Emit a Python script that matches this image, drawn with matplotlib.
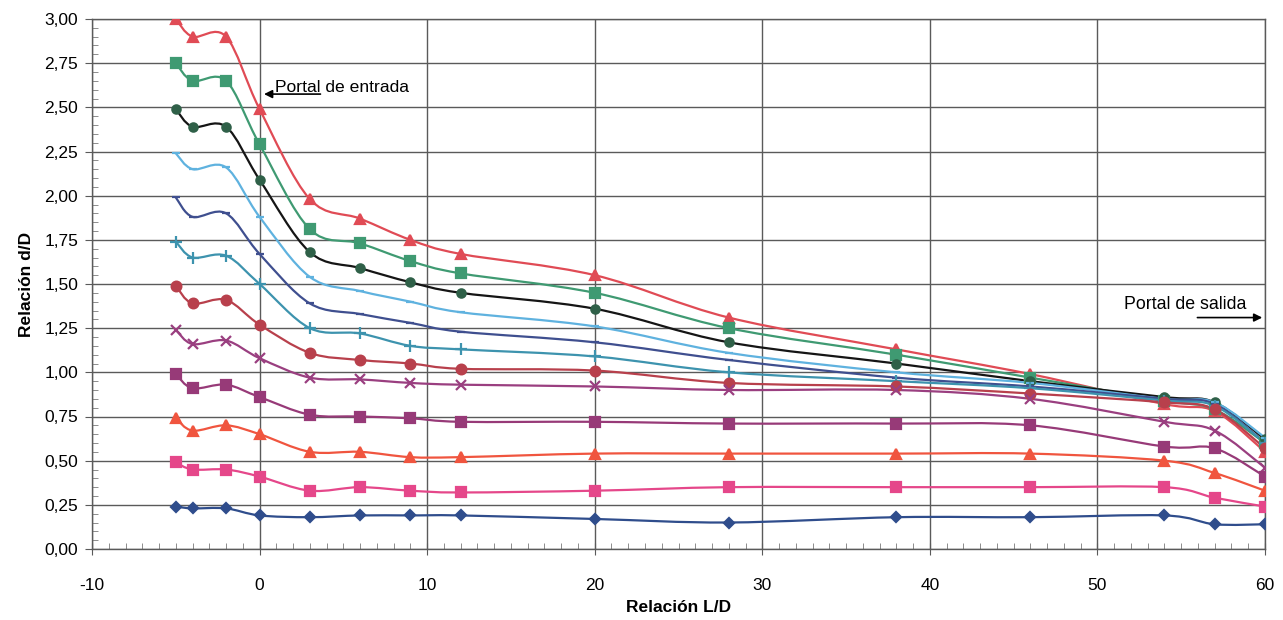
import matplotlib
matplotlib.use("Agg")
import matplotlib.pyplot as plt
import numpy as np
from matplotlib.path import Path
from matplotlib.patches import PathPatch
from matplotlib.ticker import MultipleLocator, FuncFormatter

plt.rcParams['font.family'] = ['Liberation Sans', 'DejaVu Sans']

# L/D positions of the measuring stations
ld = [-5, -4, -2, 0, 3, 6, 9, 12, 20, 28, 38, 46, 54, 57, 60]

# d/D profiles (one per upstream level)
s300 = [3.00, 2.90, 2.90, 2.49, 1.98, 1.87, 1.75, 1.67, 1.55, 1.31, 1.13, 0.99, 0.82, 0.78, 0.55]
s275 = [2.75, 2.65, 2.65, 2.29, 1.81, 1.73, 1.63, 1.56, 1.45, 1.25, 1.10, 0.97, 0.84, 0.79, 0.60]
s250 = [2.49, 2.39, 2.39, 2.09, 1.68, 1.59, 1.51, 1.45, 1.36, 1.17, 1.05, 0.95, 0.86, 0.83, 0.62]
s225 = [2.24, 2.15, 2.16, 1.88, 1.54, 1.46, 1.40, 1.34, 1.26, 1.11, 1.00, 0.94, 0.85, 0.83, 0.63]
s200 = [1.99, 1.88, 1.90, 1.67, 1.39, 1.33, 1.28, 1.23, 1.17, 1.07, 0.97, 0.92, 0.85, 0.82, 0.60]
s175 = [1.74, 1.65, 1.66, 1.50, 1.25, 1.22, 1.15, 1.13, 1.09, 1.00, 0.95, 0.91, 0.84, 0.81, 0.60]
s150 = [1.49, 1.39, 1.41, 1.27, 1.11, 1.07, 1.05, 1.02, 1.01, 0.94, 0.92, 0.88, 0.83, 0.79, 0.57]
s125 = [1.24, 1.16, 1.18, 1.08, 0.97, 0.96, 0.94, 0.93, 0.92, 0.90, 0.90, 0.85, 0.72, 0.67, 0.46]
s100 = [0.99, 0.91, 0.93, 0.86, 0.76, 0.75, 0.74, 0.72, 0.72, 0.71, 0.71, 0.70, 0.58, 0.57, 0.41]
s075 = [0.74, 0.67, 0.70, 0.65, 0.55, 0.55, 0.52, 0.52, 0.54, 0.54, 0.54, 0.54, 0.50, 0.43, 0.33]
s050 = [0.49, 0.45, 0.45, 0.41, 0.33, 0.35, 0.33, 0.32, 0.33, 0.35, 0.35, 0.35, 0.35, 0.29, 0.24]
s025 = [0.24, 0.23, 0.23, 0.19, 0.18, 0.19, 0.19, 0.19, 0.17, 0.15, 0.18, 0.18, 0.19, 0.14, 0.14]

series = [s300, s275, s250, s225, s200, s175, s150, s125, s100, s075, s050, s025]
line_colors = ['#e04b55', '#3f9a72', '#151515', '#5fb2df', '#3f4f8f', '#3d93ae',
               '#b8404c', '#9a3f80', '#973a78', '#f0553f', '#e5478a', '#2f4d8c']
marker_colors = ['#e04b55', '#3f9a72', '#2f6048', '#5fb2df', '#3f4f8f', '#3d93ae',
                 '#b8404c', '#9a3f80', '#973a78', '#f0553f', '#e5478a', '#2f4d8c']
markers = ['^', 's', 'o', '_', '_', '+', 'o', 'x', 's', '^', 's', 'D']
msizes = [7, 7, 6, 6, 6, 9, 7, 7, 7, 7, 7, 5]

fig = plt.figure(figsize=(12.83, 6.20), dpi=100)
ax = fig.add_axes([92/1283, 1-549/620, (1265-92)/1283, (549-19)/620])


def smooth_path(xs, ys):
    pts = np.column_stack([xs, ys]).astype(float)
    n = len(pts)
    verts = [pts[0]]
    codes = [Path.MOVETO]
    for i in range(n - 1):
        p0 = pts[i - 1] if i > 0 else pts[i]
        p1 = pts[i]
        p2 = pts[i + 1]
        p3 = pts[i + 2] if i + 2 < n else pts[i + 1]
        c1 = p1 + (p2 - p0) / 6.0
        c2 = p2 - (p3 - p1) / 6.0
        verts += [c1, c2, p2]
        codes += [Path.CURVE4] * 3
    return Path(verts, codes)


for vals, lc, mc, mk, ms in zip(series, line_colors, marker_colors, markers, msizes):
    patch = PathPatch(smooth_path(ld, vals), facecolor='none', edgecolor=lc,
                      lw=1.6, zorder=3, transform=ax.transData)
    ax.add_patch(patch)
    ax.plot(ld, vals, linestyle='none', marker=mk, markersize=ms,
            color=mc, markeredgecolor=mc, markeredgewidth=1.6, zorder=4)

ax.set_xlim(-10, 60)
ax.set_ylim(0, 3.0)
ax.xaxis.set_major_locator(MultipleLocator(10))
ax.xaxis.set_minor_locator(MultipleLocator(1))
ax.yaxis.set_major_locator(MultipleLocator(0.25))
ax.yaxis.set_minor_locator(MultipleLocator(0.05))
ax.yaxis.set_major_formatter(FuncFormatter(lambda v, p: f"{v:.2f}".replace('.', ',')))
ax.xaxis.set_major_formatter(FuncFormatter(lambda v, p: f"{v:.0f}"))

ax.grid(True, which='major', color='#5a5a5a', lw=1.0, zorder=1)
for sp in ax.spines.values():
    sp.set_color('#5a5a5a')
    sp.set_linewidth(1.0)
ax.tick_params(axis='both', which='major', labelsize=12.5, color='#5a5a5a',
               length=5, direction='out', pad=5)
ax.tick_params(axis='x', which='major', direction='inout', length=8, pad=17)
ax.tick_params(axis='x', which='minor', direction='in', length=4, color='#7a7a7a')
ax.tick_params(axis='y', which='minor', direction='in', length=4, color='#7a7a7a')

ax.set_xlabel('Relación L/D', fontsize=12.5, fontweight='bold', va='center')
ax.xaxis.set_label_coords(0.5, (549 - 607) / 530)
ax.set_ylabel('Relación d/D', fontsize=12.5, fontweight='bold', va='center')
ax.yaxis.set_label_coords((27 - 92) / 1173, 0.5)

ax.annotate('', xy=(0.1, 2.575), xytext=(3.8, 2.575),
            arrowprops=dict(arrowstyle='-|>', color='black', lw=1.2,
                            mutation_scale=12), zorder=5)
ax.text(0.95, 2.61, 'Portal de entrada', fontsize=12.6, va='center', ha='left', zorder=5)

ax.annotate('', xy=(60, 1.31), xytext=(55.8, 1.31),
            arrowprops=dict(arrowstyle='-|>', color='black', lw=1.2,
                            mutation_scale=12), zorder=5)
ax.text(51.6, 1.385, 'Portal de salida', fontsize=12.8, va='center', ha='left', zorder=5)

fig.savefig('out.png', dpi=100)
